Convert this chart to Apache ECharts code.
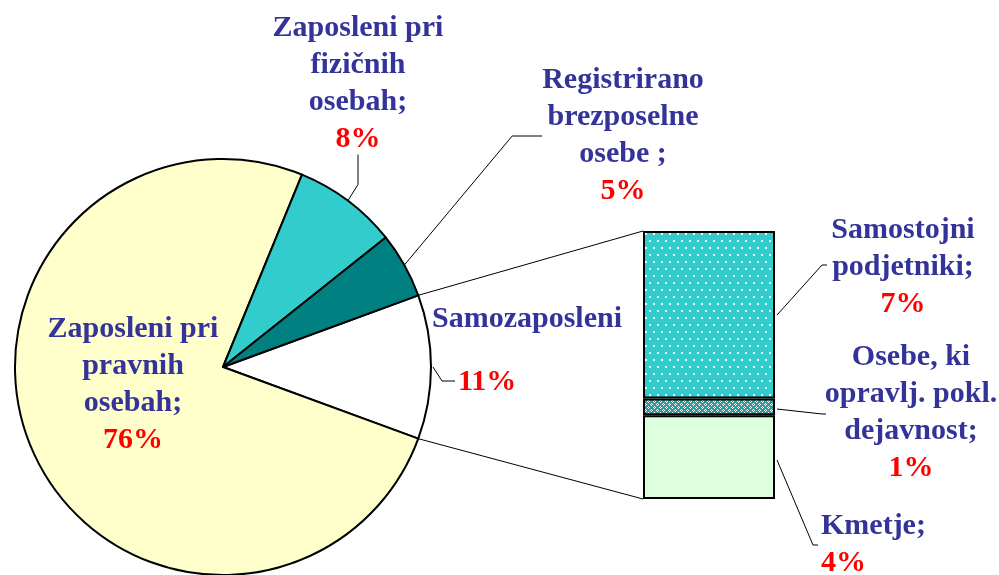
<!DOCTYPE html>
<html>
<head>
<meta charset="utf-8">
<script src="https://cdn.jsdelivr.net/npm/echarts@6/dist/echarts.min.js"></script>
<style>
  html, body { margin: 0; background: #fff; }
  #chart { width: 999px; height: 575px; }
</style>
</head>
<body>
<div id="chart"></div>
<script>
// pie slices, clockwise from the top edge of the "Samozaposleni" slice
const pieNames = ['Samozaposleni', 'Zaposleni pri\npravnih\nosebah;', 'Zaposleni pri\nfizičnih\nosebah;', 'Registrirano\nbrezposelne\nosebe ;'];
const pieValues = [11.2, 75.6, 8.1, 5.1];
const pieColors = ['#FFFFFF', '#FFFFCC', '#33CCCC', '#008080'];

// breakdown of "Samozaposleni", bottom to top
const barNames = ['Kmetje;', 'Osebe, ki\nopravlj. pokl.\ndejavnost;', 'Samostojni\npodjetniki;'];
const barValues = [3.5, 0.7, 7.0];

const BLUE = '#333399';
const RED = '#FF0000';
const FONT = '"Liberation Serif", "Times New Roman", serif';

function dotPattern() {
  const c = document.createElement('canvas');
  c.width = 8; c.height = 14;
  const ctx = c.getContext('2d');
  ctx.fillStyle = '#33CCCC';
  ctx.fillRect(0, 0, 8, 14);
  ctx.fillStyle = '#E6FFFF';
  ctx.fillRect(1, 2, 2, 2);
  ctx.fillRect(5, 9, 2, 2);
  return c;
}

function crossPattern() {
  const c = document.createElement('canvas');
  c.width = 6; c.height = 6;
  const ctx = c.getContext('2d');
  ctx.fillStyle = '#2E9C9C';
  ctx.fillRect(0, 0, 6, 6);
  ctx.fillStyle = '#FFFFFF';
  [[3, 1], [2, 2], [4, 2], [3, 3], [0, 4], [1, 5], [5, 5], [0, 0]].forEach(p => ctx.fillRect(p[0], p[1], 1, 1));
  return c;
}

const barColors = ['#DDFFDD', { image: crossPattern(), repeat: 'repeat' }, { image: dotPattern(), repeat: 'repeat' }];

const rich = {
  n: { fontFamily: FONT, fontWeight: 'bold', fontSize: 30, color: BLUE, lineHeight: 37 },
  p: { fontFamily: FONT, fontWeight: 'bold', fontSize: 30, color: RED, lineHeight: 37 },
  q: { fontFamily: FONT, fontWeight: 'bold', fontSize: 30, color: RED, lineHeight: 89, padding: [0, 0, 0, 26] }
};

function labelText(name, pct) {
  const lines = name.split('\n').map(l => '{n|' + l + '}');
  if (name === 'Samozaposleni') return lines.join('\n') + '\n{q|' + pct + '%}';
  return lines.join('\n') + '\n{p|' + pct + '%}';
}

const pieCenter = [223, 367];
const pieRadius = 208;
const pieTotal = pieValues.reduce((a, b) => a + b, 0);
const startAngle = pieValues[0] / pieTotal * 180;

const grid = { left: 643, top: 231, width: 132, height: 268 };
const barTotal = barValues.reduce((a, b) => a + b, 0);
const barRight = grid.left + grid.width + 2;

const pieLabelPos = [
  { x: 432, y: 301, align: 'left', verticalAlign: 'top',
    labelLinePoints: [[pieCenter[0] + pieRadius + 2, pieCenter[1]], [442, 381], [455, 381]] },
  { x: 133, y: 385, align: 'center', verticalAlign: 'middle' },
  { x: 358, y: 84, align: 'center', verticalAlign: 'middle' },
  { x: 623, y: 136, align: 'center', verticalAlign: 'middle' }
];
const barLabelPos = [
  { x: 821, y: 545, align: 'left', verticalAlign: 'middle' },
  { x: 911, y: 413, align: 'center', verticalAlign: 'middle' },
  { x: 903, y: 267, align: 'center', verticalAlign: 'middle' }
];
// leader lines from the bar segments to their labels
const barLeaders = [
  [[barRight, 460], [813, 545], [818, 545]],
  [[barRight, 409], [822, 414], [826, 414]],
  [[barRight, 315], [822, 265], [827, 265]]
];

function edgePoint(deg) {
  const a = deg * Math.PI / 180;
  return [pieCenter[0] + pieRadius * Math.cos(a), pieCenter[1] - pieRadius * Math.sin(a)];
}
const pTop = edgePoint(startAngle);
const pBot = edgePoint(-startAngle);

const chart = echarts.init(document.getElementById('chart'));

const barSeries = barValues.map((v, i) => ({
  type: 'bar',
  stack: 'self',
  data: [v],
  barWidth: '100%',
  itemStyle: { color: barColors[i], borderColor: '#000', borderWidth: 2 },
  label: {
    show: true,
    formatter: () => labelText(barNames[i], Math.round(v)),
    rich: rich
  },
  labelLayout: barLabelPos[i],
  emphasis: { disabled: true }
}));

const lineStyle = { stroke: '#000', lineWidth: 1, fill: null };

chart.setOption({
  backgroundColor: '#fff',
  animation: false,
  grid: grid,
  xAxis: { type: 'category', data: ['Samozaposleni'], show: false },
  yAxis: { type: 'value', min: 0, max: barTotal, show: false },
  graphic: [
    { type: 'line', shape: { x1: pTop[0], y1: pTop[1], x2: grid.left, y2: grid.top }, style: lineStyle },
    { type: 'line', shape: { x1: pBot[0], y1: pBot[1], x2: grid.left, y2: grid.top + grid.height }, style: lineStyle }
  ].concat(barLeaders.map(pts => ({ type: 'polyline', shape: { points: pts }, style: lineStyle }))),
  series: [
    {
      type: 'pie',
      center: pieCenter,
      radius: pieRadius,
      startAngle: startAngle,
      clockwise: true,
      avoidLabelOverlap: false,
      itemStyle: { borderColor: '#000', borderWidth: 2 },
      label: {
        formatter: p => labelText(p.name, Math.round(p.percent)),
        rich: rich
      },
      labelLine: { show: true, smooth: false, lineStyle: { color: '#000', width: 1 } },
      labelLayout: p => pieLabelPos[p.dataIndex],
      emphasis: { disabled: true },
      data: pieValues.map((v, i) => ({
        name: pieNames[i],
        value: v,
        itemStyle: { color: pieColors[i] },
        labelLine: { show: i !== 1 }
      }))
    }
  ].concat(barSeries)
});
</script>
</body>
</html>
